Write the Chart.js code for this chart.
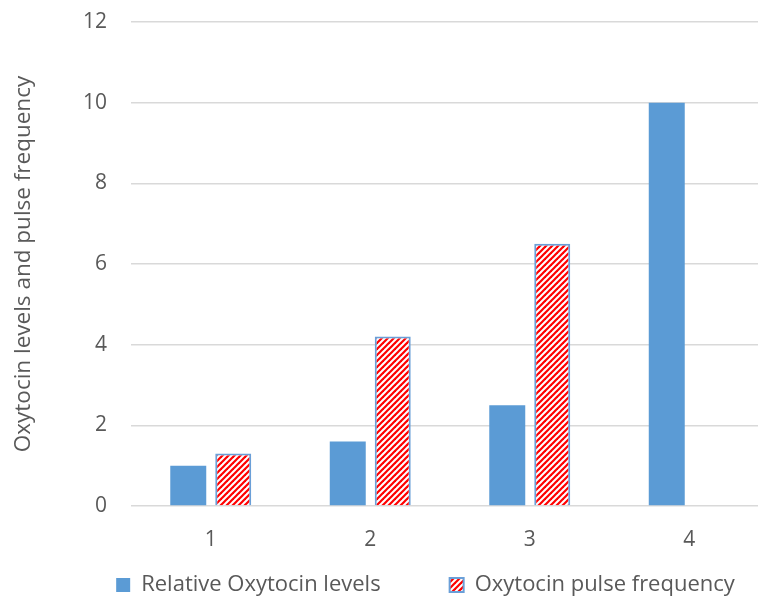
<!DOCTYPE html>
<html>
<head>
<meta charset="utf-8">
<title>Oxytocin levels and pulse frequency</title>
<script src="https://cdn.jsdelivr.net/npm/chart.js@4"></script>
<style>
  html, body { margin: 0; padding: 0; background: #fff; overflow: hidden; }
  #wrap { position: relative; width: 851px; height: 597px; }
</style>
</head>
<body>
<div id="wrap"><canvas id="myChart"></canvas></div>
<script>
var categories = ['1', '2', '3', '4'];
var oxytocinLevels = [1, 1.6, 2.5, 10];
var pulseFrequency = [1.3, 4.2, 6.5, null];
var yTicks = [0, 2, 4, 6, 8, 10, 12];

// red / white diagonal hatch like the excel fill
function hatch() {
  var c = document.createElement('canvas');
  c.width = 6;
  c.height = 6;
  var g = c.getContext('2d');
  g.fillStyle = '#ffffff';
  g.fillRect(0, 0, 6, 6);
  g.strokeStyle = '#ff0000';
  g.lineWidth = 2.2;
  [[0, 6, 6, 0], [-3, 3, 3, -3], [3, 9, 9, 3]].forEach(function (l) {
    g.beginPath();
    g.moveTo(l[0], l[1]);
    g.lineTo(l[2], l[3]);
    g.stroke();
  });
  return g.createPattern(c, 'repeat');
}

Chart.defaults.font.family = "'Open Sans', sans-serif";
Chart.defaults.font.size = 21;
Chart.defaults.color = '#595959';

var data = {
  labels: categories,
  datasets: [
    {
      label: 'Relative Oxytocin levels',
      data: oxytocinLevels,
      backgroundColor: '#5b9bd5',
      borderWidth: 0
    },
    {
      label: 'Oxytocin pulse frequency',
      data: pulseFrequency,
      backgroundColor: hatch(),
      borderColor: '#6a9fd8',
      borderWidth: 2
    }
  ]
};

var ctx = document.getElementById('myChart');

var myBarChart = new Chart(ctx, {
  type: 'bar',
  data: data,
  options: {
    responsive: true,
    maintainAspectRatio: false,
    animation: false,
    categoryPercentage: 0.564,
    barPercentage: 0.8,
    layout: { padding: { top: 22, left: 0, right: 0, bottom: 0 } },
    scales: {
      x: {
        grid: { display: false, drawTicks: false },
        border: { display: false },
        ticks: { padding: 21 },
        afterFit: function (scale) { scale.height = 46; }
      },
      y: {
        min: 0,
        max: 12,
        afterBuildTicks: function (scale) {
          scale.ticks = yTicks.map(function (v) { return { value: v }; });
        },
        afterFit: function (scale) {
          scale.width = 131;
          scale.paddingTop = 0;
          scale.paddingBottom = 0;
        },
        grid: { color: '#d9d9d9', lineWidth: 1.5, drawTicks: false },
        border: { display: false },
        ticks: { padding: 24 },
        title: {
          display: true,
          text: 'Oxytocin levels and pulse frequency',
          font: { size: 22.5 },
          padding: { top: 10, bottom: 0 }
        }
      },
      // empty right axis, the original chart was wider than the crop
      y2: {
        position: 'right',
        grid: { display: false, drawTicks: false },
        border: { display: false },
        ticks: { display: false },
        afterFit: function (scale) { scale.width = 82; }
      }
    },
    plugins: {
      tooltip: { enabled: false },
      legend: {
        position: 'bottom',
        maxHeight: 45,
        onClick: function () {},
        labels: {
          font: { size: 22 },
          boxWidth: 14,
          boxHeight: 14,
          padding: 22,
          generateLabels: function (chart) {
            var items = Chart.defaults.plugins.legend.labels.generateLabels(chart);
            // blank spacer item, excel leaves a wide gap between entries
            items.splice(1, 0, {
              text: '',
              fillStyle: 'rgba(0,0,0,0)',
              strokeStyle: 'rgba(0,0,0,0)',
              lineWidth: 0,
              hidden: false
            });
            return items;
          }
        }
      }
    }
  }
});
</script>
</body>
</html>
